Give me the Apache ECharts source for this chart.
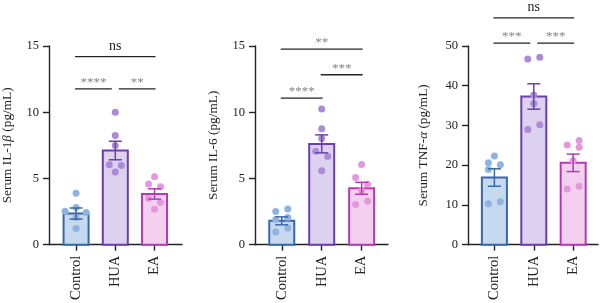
<!DOCTYPE html>
<html>
<head>
<meta charset="utf-8">
<script src="https://cdn.jsdelivr.net/npm/echarts@6/dist/echarts.min.js"></script>
<style>
  html, body { margin: 0; padding: 0; background: #fff; }
  #main { width: 600px; height: 303px; }
</style>
</head>
<body>
<div id="main"></div>
<script>
// 分组
var categories = ['Control', 'HUA', 'EA'];

// IL-1β
var il1bMean = [2.35, 7.11, 3.83];
var il1bSem = [0.42, 0.70, 0.39];
var il1bControl = [3.88, 2.80, 2.53, 2.43, 2.05, 1.22];
var il1bHUA = [10.0, 8.24, 7.49, 6.04, 5.98, 5.48];
var il1bEA = [5.13, 4.58, 4.38, 3.48, 3.18, 2.68];

// IL-6
var il6Mean = [1.80, 7.61, 4.26];
var il6Sem = [0.30, 0.68, 0.45];
var il6Control = [2.50, 2.70, 1.90, 2.05, 1.25, 0.95];
var il6HUA = [10.24, 8.76, 8.01, 7.06, 6.66, 5.58];
var il6EA = [6.06, 5.08, 4.56, 4.10, 3.28, 3.03];

// TNF-α
var tnfMean = [16.9, 37.3, 20.6];
var tnfSem = [2.2, 3.2, 2.2];
var tnfControl = [22.3, 20.6, 20.1, 18.9, 10.8, 10.3];
var tnfHUA = [47.2, 46.7, 37.7, 35.5, 30.2, 29.0];
var tnfEA = [26.2, 25.1, 24.5, 21.2, 14.7, 14.0];

// 显著性标注 [from, to, y, label]
var il1bSig = [[0, 2, 14.2, 'ns'], [0, 1, 11.77, '****'], [1, 2, 11.77, '**']];
var il6Sig = [[0, 2, 14.76, '**'], [1, 2, 12.83, '***'], [0, 1, 11.07, '****']];
var tnfSig = [[0, 2, 57.1, 'ns'], [0, 1, 50.7, '***'], [1, 2, 50.7, '***']];

var yMax = [15, 15, 50];
var yStep = [5, 5, 10];

// 点的水平抖动 (px)
var jitter = [
  [[0, 0, -11, 10, 0, 0], [0, 0, 0, -6, 6, 0], [0, -6, 6, -6, 6, 0]],
  [[-6, 6, -6, 6, 6, -6], [0, 0, 0, -6, 6, 0], [0, -6, 6, 0, 6, -6]],
  [[0, -6, 6, -6, 6, -6], [6, -6, 0, 0, 6, -6], [6, -6, 6, 0, 6, -6]]
];

var fillColors = ['#c6d9ef', '#dcd1ef', '#f4d0f0'];
var lineColors = ['#3768a9', '#6b3fb0', '#b23bb3'];
var dotColors = ['#8fb4e2', '#a98bd8', '#e597dd'];
var FONT = 'Liberation Serif';

var panels = [
  { mean: il1bMean, sem: il1bSem, pts: [il1bControl, il1bHUA, il1bEA], sig: il1bSig,
    name: 'Serum IL-1{i|β} (pg/mL)', grid: { left: 49, width: 133 }, xr: [-0.69, 2.7], gap: 35 },
  { mean: il6Mean, sem: il6Sem, pts: [il6Control, il6HUA, il6EA], sig: il6Sig,
    name: 'Serum IL-6 (pg/mL)', grid: { left: 255, width: 133 }, xr: [-0.67, 2.66], gap: 35 },
  { mean: tnfMean, sem: tnfSem, pts: [tnfControl, tnfHUA, tnfEA], sig: tnfSig,
    name: 'Serum TNF-{i|α} (pg/mL)', grid: { left: 468, width: 130 }, xr: [-0.67, 2.63], gap: 38 }
];

var grids = [], xAxes = [], yAxes = [], series = [];

panels.forEach(function (p, gi) {
  grids.push({ left: p.grid.left, width: p.grid.width, top: 46, height: 199.6 });
  xAxes.push({
    gridIndex: gi, type: 'value', min: p.xr[0], max: p.xr[1],
    splitLine: { show: false },
    axisLine: { show: true, onZero: false, lineStyle: { color: '#222', width: 1.4 } },
    axisTick: { show: true, customValues: [0, 1, 2], length: 6, lineStyle: { color: '#222', width: 1.4 } },
    axisLabel: {
      customValues: [0, 1, 2], rotate: 90, margin: 11,
      fontFamily: FONT, fontSize: 14.5, color: '#222',
      formatter: function (v) { return categories[Math.round(v)]; }
    }
  });
  yAxes.push({
    gridIndex: gi, type: 'value', min: 0, max: yMax[gi], interval: yStep[gi],
    splitLine: { show: false },
    axisLine: { show: true, onZero: false, lineStyle: { color: '#222', width: 1.4 } },
    axisTick: { show: true, length: 6, lineStyle: { color: '#222', width: 1.4 } },
    axisLabel: { fontFamily: FONT, fontSize: 12.5, color: '#222', margin: 10 },
    name: p.name, nameLocation: 'middle', nameRotate: 90, nameGap: p.gap,
    nameTextStyle: {
      fontFamily: FONT, fontSize: 13.3, color: '#222',
      rich: { i: { fontFamily: FONT, fontSize: 13.3, fontStyle: 'italic', color: '#222' } }
    }
  });

  // 柱
  series.push({
    type: 'custom', xAxisIndex: gi, yAxisIndex: gi, z: 1,
    data: p.mean.map(function (m, i) { return [i, m]; }),
    renderItem: function (params, api) {
      var i = api.value(0);
      var base = api.coord([i, 0]);
      var top = api.coord([i, api.value(1)]);
      return {
        type: 'rect',
        shape: { x: base[0] - 12.5, y: top[1], width: 25, height: base[1] - top[1] },
        style: { fill: fillColors[i], stroke: lineColors[i], lineWidth: 2 }
      };
    }
  });

  // 散点
  p.pts.forEach(function (arr, ci) {
    series.push({
      type: 'scatter', xAxisIndex: gi, yAxisIndex: gi, z: 2,
      symbolSize: 7,
      itemStyle: { color: dotColors[ci], opacity: 1 },
      data: arr.map(function (v, k) {
        return { value: [ci, v], symbolOffset: [jitter[gi][ci][k], 0] };
      })
    });
  });

  // 误差线
  series.push({
    type: 'custom', xAxisIndex: gi, yAxisIndex: gi, z: 3,
    data: p.mean.map(function (m, i) { return [i, m, p.sem[i]]; }),
    renderItem: function (params, api) {
      var i = api.value(0), m = api.value(1), s = api.value(2);
      var hi = api.coord([i, m + s]);
      var lo = api.coord([i, m - s]);
      var st = { stroke: lineColors[i], lineWidth: 1.5 };
      return {
        type: 'group',
        children: [
          { type: 'line', shape: { x1: hi[0], y1: hi[1], x2: lo[0], y2: lo[1] }, style: st },
          { type: 'line', shape: { x1: hi[0] - 6.5, y1: hi[1], x2: hi[0] + 6.5, y2: hi[1] }, style: st },
          { type: 'line', shape: { x1: lo[0] - 6.5, y1: lo[1], x2: lo[0] + 6.5, y2: lo[1] }, style: st }
        ]
      };
    }
  });

  // 显著性
  series.push({
    type: 'custom', xAxisIndex: gi, yAxisIndex: gi, z: 4, clip: false,
    silent: true,
    data: p.sig.map(function (s) { return [s[0], s[2]]; }),
    renderItem: function (params, api) {
      var s = p.sig[params.dataIndex];
      var a = api.coord([s[0], s[2]]);
      var b = api.coord([s[1], s[2]]);
      var x1 = a[0] - 1, x2 = b[0] + 1;
      p.sig.forEach(function (o) {
        if (o === s || o[2] !== s[2]) return;
        if (o[0] === s[1]) x2 -= 4.5;
        if (o[1] === s[0]) x1 += 4.5;
      });
      var isNs = s[3] === 'ns';
      return {
        type: 'group',
        children: [
          { type: 'line', shape: { x1: x1, y1: a[1], x2: x2, y2: a[1] },
            style: { stroke: '#222', lineWidth: 1.3 } },
          { type: 'text', x: (x1 + x2) / 2, y: a[1] - (isNs ? 3 : 0),
            style: {
              text: s[3], align: 'center', verticalAlign: 'bottom',
              fill: isNs ? '#222' : '#858585',
              font: (isNs ? '14px ' : '13px ') + FONT
            } }
        ]
      };
    }
  });
});

var chart = echarts.init(document.getElementById('main'));
chart.setOption({
  animation: false,
  grid: grids,
  xAxis: xAxes,
  yAxis: yAxes,
  series: series
});
</script>
</body>
</html>
